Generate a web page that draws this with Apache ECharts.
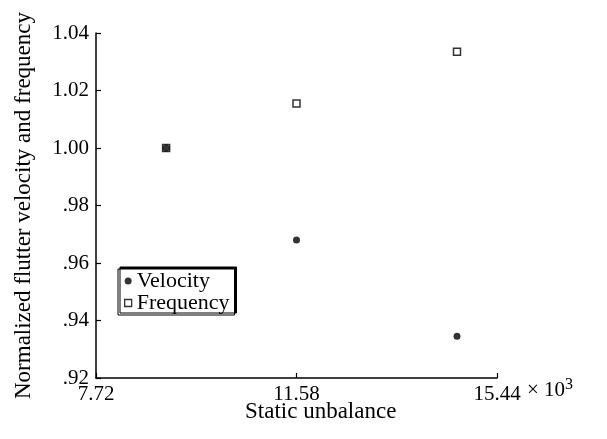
<!DOCTYPE html>
<html>
<head>
<meta charset="utf-8">
<script src="https://cdn.jsdelivr.net/npm/echarts@6/dist/echarts.min.js"></script>
<style>html,body{margin:0;padding:0;background:#fff;}#c{width:607px;height:439px;}</style>
</head>
<body>
<div id="c"></div>
<script>
var staticUnbalance = [9.07, 11.58, 14.67];
var velocity = [1.000, 0.968, 0.9345];
var frequency = [1.000, 1.0155, 1.0335];
var xTicks = [7.72, 11.58, 15.44];
var yTickLabels = ['.92', '.94', '.96', '.98', '1.00', '1.02', '1.04'];

var font = 'Liberation Serif';
var chart = echarts.init(document.getElementById('c'));
chart.setOption({
  backgroundColor: '#fff',
  animation: false,
  grid: {left: 96, right: 110, top: 33, bottom: 61},
  xAxis: {
    type: 'value', min: 7.72, max: 15.44, interval: 3.86,
    axisLine: {lineStyle: {color: '#000', width: 1.5}},
    axisTick: {inside: true, length: 5, lineStyle: {color: '#000', width: 1.2}},
    splitLine: {show: false},
    axisLabel: {color: '#000', fontFamily: font, fontSize: 21, margin: 6,
      formatter: function (v) { return v.toFixed(2); }}
  },
  yAxis: {
    type: 'value', min: 0.92, max: 1.04, interval: 0.02,
    name: 'Normalized flutter velocity and frequency',
    nameLocation: 'middle', nameGap: 61, nameRotate: 90,
    nameTextStyle: {color: '#000', fontFamily: font, fontSize: 23},
    axisLine: {lineStyle: {color: '#000', width: 1.5}},
    axisTick: {inside: true, length: 5, lineStyle: {color: '#000', width: 1.2}},
    splitLine: {show: false},
    axisLabel: {color: '#000', fontFamily: font, fontSize: 21, margin: 7,
      formatter: function (v) { var i = Math.round((v - 0.92) / 0.02); return yTickLabels[i]; }}
  },
  legend: {
    left: 118, top: 269, orient: 'vertical', itemGap: 0, itemWidth: 7, itemHeight: 7,
    padding: [1, 5, 1, 6],
    backgroundColor: '#fff', borderColor: '#000', borderWidth: 1,
    shadowColor: '#000', shadowBlur: 0, shadowOffsetX: 2, shadowOffsetY: -2,
    textStyle: {color: '#000', fontFamily: font, fontSize: 22, lineHeight: 19, padding: [0, 0, 0, 0]},
    data: [
      {name: 'Velocity', icon: 'circle', itemStyle: {color: '#000', borderWidth: 0}},
      {name: 'Frequency', icon: 'rect', itemStyle: {color: '#fff', borderColor: '#000', borderWidth: 1.3}}
    ]
  },
  graphic: [
    {type: 'text', left: 527, top: 377, style: {text: '× 10{s|3}', fill: '#000', font: '21px "Liberation Serif"',
      rich: {s: {fontSize: 16, fontFamily: font, verticalAlign: 'top', padding: [0, 0, 10, 0]}}}},
    {type: 'text', left: 245, top: 400, style: {text: 'Static unbalance', fill: '#000', font: '23px "Liberation Serif"'}}
  ],
  series: [
    {name: 'Velocity', type: 'scatter', symbol: 'circle', symbolSize: 7, z: 5,
      itemStyle: {color: '#000'},
      data: staticUnbalance.map(function (x, i) { return [x, velocity[i]]; })},
    {name: 'Frequency', type: 'scatter', symbol: 'rect', symbolSize: 7, z: 3,
      itemStyle: {color: '#fff', borderColor: '#000', borderWidth: 1.5},
      data: staticUnbalance.map(function (x, i) { return [x, frequency[i]]; })}
  ]
});
</script>
</body>
</html>
